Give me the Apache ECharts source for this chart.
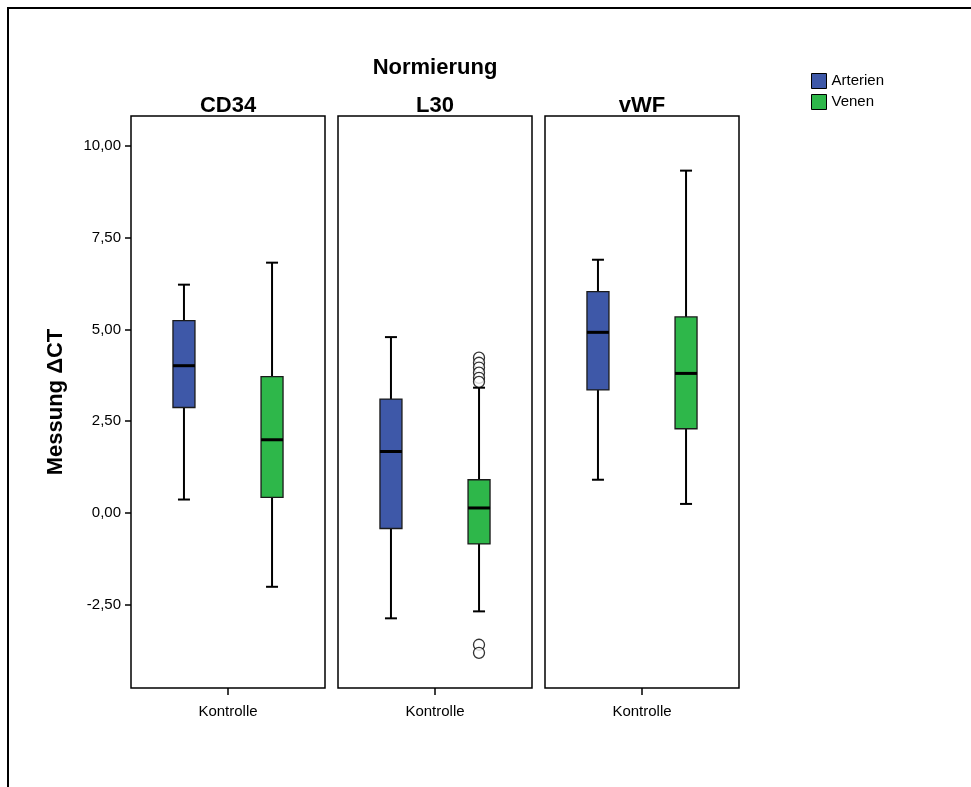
<!DOCTYPE html>
<html>
<head>
<meta charset="utf-8">
<script src="https://cdn.jsdelivr.net/npm/echarts@6/dist/echarts.min.js"></script>
<style>
  html, body { margin: 0; padding: 0; background: #fff; }
  #main { width: 971px; height: 787px; }
</style>
</head>
<body>
<div id="main"></div>
<script>
// Werte: [min, Q1, Median, Q3, max]
var panels = ['CD34', 'L30', 'vWF'];
var categories = ['Kontrolle'];
var yTicks = [-2.5, 0, 2.5, 5, 7.5, 10];

var arterien = [
  [0.36, 2.87, 4.01, 5.24, 6.22],
  [-2.88, -0.43, 1.67, 3.10, 4.79],
  [0.90, 3.35, 4.92, 6.03, 6.90]
];
var venen = [
  [-2.02, 0.42, 1.99, 3.71, 6.82],
  [-2.69, -0.85, 0.13, 0.90, 3.41],
  [0.24, 2.29, 3.80, 5.34, 9.33]
];
// Ausreisser (nur L30 Venen)
var venenOutliers = [
  [],
  [4.23, 4.09, 3.96, 3.82, 3.68, 3.57, -3.60, -3.82],
  []
];

var blue = '#3e58a8';
var green = '#2eb74a';

var chart = echarts.init(document.getElementById('main'));

function fmt(v) {
  return v.toFixed(2).replace('.', ',');
}

// eigener Boxplot: schmale Whisker-Enden, dicker Median
function makeBox(side) {
  return function (params, api) {
    var band = api.size([1, 0])[0];
    var off = side * band * 0.227;
    var lo = api.coord([api.value(0), api.value(1)]);
    var q1 = api.coord([api.value(0), api.value(2)]);
    var md = api.coord([api.value(0), api.value(3)]);
    var q3 = api.coord([api.value(0), api.value(4)]);
    var hi = api.coord([api.value(0), api.value(5)]);
    var x = lo[0] + off;
    var bw = 22, cw = 10;
    var line = { stroke: '#000', lineWidth: 2 };
    return {
      type: 'group',
      children: [
        { type: 'line', shape: { x1: x, y1: hi[1], x2: x, y2: q3[1] }, style: line },
        { type: 'line', shape: { x1: x, y1: q1[1], x2: x, y2: lo[1] }, style: line },
        { type: 'line', shape: { x1: x - cw / 2 - 1, y1: hi[1], x2: x + cw / 2 + 1, y2: hi[1] }, style: line },
        { type: 'line', shape: { x1: x - cw / 2 - 1, y1: lo[1], x2: x + cw / 2 + 1, y2: lo[1] }, style: line },
        { type: 'rect', shape: { x: x - bw / 2, y: q3[1], width: bw, height: q1[1] - q3[1] },
          style: { fill: api.visual('color'), stroke: '#1a1a1a', lineWidth: 1.3 } },
        { type: 'line', shape: { x1: x - bw / 2, y1: md[1], x2: x + bw / 2, y2: md[1] },
          style: { stroke: '#000', lineWidth: 3 } }
      ]
    };
  };
}

var grids = [], xAxes = [], yAxes = [], series = [], titles = [];
var lefts = [131, 338, 545];

titles.push({
  text: 'Normierung', left: 435, top: 57, textAlign: 'center', padding: 0,
  textStyle: { fontFamily: 'Liberation Sans', fontSize: 22, fontWeight: 'bold', color: '#000' }
});

panels.forEach(function (name, i) {
  grids.push({
    left: lefts[i], top: 116, width: 194, height: 572,
    show: true, borderColor: '#000', borderWidth: 1.5, backgroundColor: 'transparent'
  });
  titles.push({
    text: name, left: lefts[i] + 97, top: 95, textAlign: 'center', padding: 0,
    textStyle: { fontFamily: 'Liberation Sans', fontSize: 22, fontWeight: 'bold', color: '#000' }
  });
  xAxes.push({
    gridIndex: i, type: 'category', data: categories, position: 'bottom',
    axisLine: { show: false, onZero: false },
    axisTick: { show: true, length: 7, alignWithLabel: true, lineStyle: { color: '#000', width: 1.5 } },
    axisLabel: { margin: 16, fontFamily: 'Liberation Sans', fontSize: 15, color: '#000' },
    splitLine: { show: false }
  });
  yAxes.push({
    gridIndex: i, type: 'value', min: -4.78, max: 10.82,
    name: i === 0 ? 'Messung \u0394CT' : '',
    nameLocation: 'middle', nameGap: 64,
    nameTextStyle: { fontFamily: 'Liberation Sans', fontSize: 22, fontWeight: 'bold', color: '#000' },
    axisLine: { show: false },
    axisTick: { show: i === 0, length: 6, customValues: yTicks, lineStyle: { color: '#000', width: 1.5 } },
    axisLabel: {
      show: i === 0, margin: 10, customValues: yTicks,
      fontFamily: 'Liberation Sans', fontSize: 15, color: '#000',
      formatter: fmt
    },
    splitLine: { show: false }
  });
  series.push({
    name: 'Arterien', type: 'custom', xAxisIndex: i, yAxisIndex: i,
    itemStyle: { color: blue },
    renderItem: makeBox(-1),
    encode: { x: 0, y: [1, 2, 3, 4, 5] },
    data: [[0].concat(arterien[i])]
  });
  series.push({
    name: 'Venen', type: 'custom', xAxisIndex: i, yAxisIndex: i,
    itemStyle: { color: green },
    renderItem: makeBox(1),
    encode: { x: 0, y: [1, 2, 3, 4, 5] },
    data: [[0].concat(venen[i])]
  });
  if (venenOutliers[i].length) {
    series.push({
      name: 'Ausreisser', type: 'scatter', xAxisIndex: i, yAxisIndex: i,
      symbol: 'circle', symbolSize: 11, symbolOffset: [44, 0],
      itemStyle: { color: '#fff', borderColor: '#000', borderWidth: 1.3 },
      data: venenOutliers[i].map(function (v) { return [0, v]; }),
      z: 5
    });
  }
});

var option = {
  backgroundColor: '#fff',
  animation: false,
  title: titles,
  legend: {
    data: ['Arterien', 'Venen'],
    orient: 'vertical', left: 806, top: 68,
    itemWidth: 15, itemHeight: 15, itemGap: 5,
    icon: 'rect',
    itemStyle: { borderColor: '#000', borderWidth: 1 },
    textStyle: { fontFamily: 'Liberation Sans', fontSize: 15, color: '#000' }
  },
  grid: grids,
  xAxis: xAxes,
  yAxis: yAxes,
  series: series,
  graphic: [{
    type: 'polyline', silent: true,
    shape: { points: [[8, 787], [8, 8], [971, 8]] },
    style: { stroke: '#000', lineWidth: 2, fill: null }
  }]
};

chart.setOption(option);
</script>
</body>
</html>
